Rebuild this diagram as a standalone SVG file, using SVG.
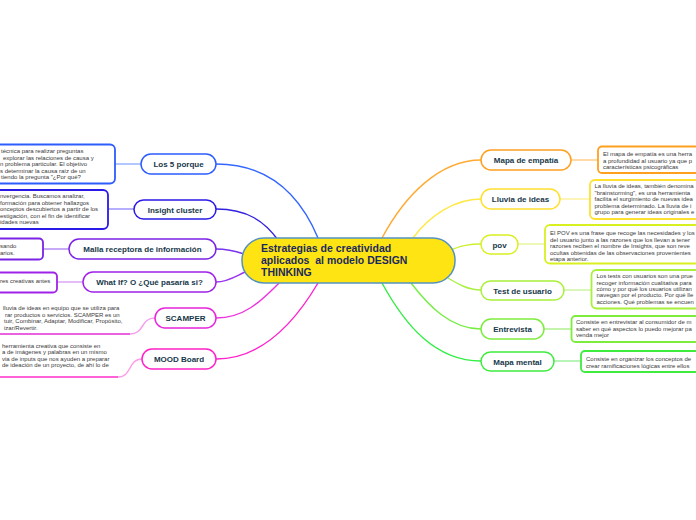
<svg xmlns="http://www.w3.org/2000/svg" width="696" height="520" viewBox="0 0 696 520">
<style>
.bg{fill:#ffffff}
.node rect{fill:#ffffff;stroke-width:1.5}
.desc rect{fill:#ffffff;stroke-width:1.8}
.nt{font-family:"Liberation Sans",Arial,sans-serif;font-size:8px;font-weight:bold;fill:#17384a;text-anchor:middle}
.dt{font-family:"Liberation Sans",Arial,sans-serif;font-size:6px;fill:#3a3a3a}
.ct{font-family:"Liberation Sans",Arial,sans-serif;font-size:10.5px;font-weight:bold;fill:#1b2a5e;white-space:pre}
#connectors path{fill:none;stroke-width:1.4}
#connectors .lt{stroke-width:1.5}
</style>
<rect class="bg" x="0" y="0" width="696" height="520"/>
<g id="connectors">
<path d="M216,164 C270,164 300,195 318,238" stroke="#3366ff"/>
<path d="M216,209 C248,209 265,222 278,240" stroke="#3322dd"/>
<path d="M216,249 C228,249 235,251 244,254" stroke="#7733ee"/>
<path d="M216,282 C228,282 236,276 245,272" stroke="#9933ee"/>
<path d="M216,318 C245,318 262,300 279,283" stroke="#ee33dd"/>
<path d="M216,359 C262,359 295,322 318,283" stroke="#ff22cc"/>
<path d="M481,160 C440,160 405,195 382,238" stroke="#ffaa33"/>
<path d="M481,199 C455,199 430,215 413,238" stroke="#ffe844"/>
<path d="M481,244 C468,244 462,246 453,249" stroke="#ccf033"/>
<path d="M481,290 C468,290 458,284 448,278" stroke="#aaf044"/>
<path d="M481,329 C450,329 428,305 411,283" stroke="#77ee44"/>
<path d="M481,361 C435,361 405,325 382,283" stroke="#33ee44"/>
<path class="lt" d="M115,164 L141,164" stroke="#99b4ff"/>
<path class="lt" d="M108,209 L134,209" stroke="#9e95ff"/>
<path class="lt" d="M43,249 L69,249" stroke="#b68cf5"/>
<path class="lt" d="M57,282 L83,282" stroke="#dba6f7"/>
<path class="lt" d="M155,318 C140,318 145,334 130,334" stroke="#f3a0ee"/>
<path class="lt" d="M142,359 C128,359 132,377 118,377" stroke="#ff9ee6"/>
<path d="M0,334 L130,334" stroke="#e22ed6" stroke-width="2.5"/>
<path d="M0,377 L118,377" stroke="#ff2ec8" stroke-width="2.5"/>
<path class="lt" d="M571,160 L598,160" stroke="#ffcc88"/>
<path class="lt" d="M560,199 L590,199" stroke="#fff0a0"/>
<path class="lt" d="M518,244 L545,244" stroke="#e6f5a0"/>
<path class="lt" d="M564,290 L591,290" stroke="#cdf5a0"/>
<path class="lt" d="M544,329 L571,329" stroke="#b0f090"/>
<path class="lt" d="M554,361 L581,361" stroke="#a0f0a0"/>
</g>
<g id="center">
<rect x="242" y="238" width="213" height="45" rx="22" fill="#ffe414" stroke="#5592c0" stroke-width="1.5"/>
<text class="ct" x="261" y="252">Estrategias de creatividad</text>
<text class="ct" x="261" y="264" xml:space="preserve">aplicados  al modelo DESIGN</text>
<text class="ct" x="261" y="275.5">THINKING</text>
</g>
<g id="n-5porque" class="node"><rect x="141" y="154" width="75" height="20" rx="10" stroke="#2d5cff"/><text class="nt" x="178.5" y="167">Los 5 porque</text></g>
<g id="n-insight" class="node"><rect x="134" y="200" width="82" height="19" rx="9.5" stroke="#2a1ae8"/><text class="nt" x="175" y="212.5">Insight cluster</text></g>
<g id="n-malla" class="node"><rect x="69" y="239" width="147" height="20" rx="10" stroke="#7b22e6"/><text class="nt" x="142.5" y="252">Malla receptora de información</text></g>
<g id="n-whatif" class="node"><rect x="83" y="272" width="133" height="20" rx="10" stroke="#a022e8"/><text class="nt" x="149.5" y="285">What If? O ¿Qué pasaría si?</text></g>
<g id="n-scamper" class="node"><rect x="155" y="308" width="61" height="20" rx="10" stroke="#e625dc"/><text class="nt" x="185.5" y="321">SCAMPER</text></g>
<g id="n-mood" class="node"><rect x="142" y="349" width="74" height="20" rx="10" stroke="#ff22c8"/><text class="nt" x="179" y="362">MOOD Board</text></g>
<g id="n-empatia" class="node"><rect x="481" y="150" width="90" height="20" rx="10" stroke="#ff9f1f"/><text class="nt" x="526" y="163">Mapa de empatía</text></g>
<g id="n-lluvia" class="node"><rect x="481" y="189" width="79" height="20" rx="10" stroke="#ffe030"/><text class="nt" x="520.5" y="202">Lluvia de ideas</text></g>
<g id="n-pov" class="node"><rect x="481" y="235" width="37" height="19" rx="9.5" stroke="#d9f020"/><text class="nt" x="499.5" y="247.5">pov</text></g>
<g id="n-test" class="node"><rect x="481" y="281" width="83" height="19" rx="9.5" stroke="#a8f03a"/><text class="nt" x="522.5" y="293.5">Test de usuario</text></g>
<g id="n-entrevista" class="node"><rect x="481" y="319" width="63" height="20" rx="10" stroke="#7ded3d"/><text class="nt" x="512.5" y="332">Entrevista</text></g>
<g id="n-mapamental" class="node"><rect x="481" y="352" width="73" height="19" rx="9.5" stroke="#3eec3e"/><text class="nt" x="517.5" y="364.5">Mapa mental</text></g>
<g id="d-5porque" class="desc"><rect x="-20" y="144.5" width="135" height="39" rx="5" stroke="#2d5cff"/>
<text class="dt" x="1" y="153">técnica para realizar preguntas</text>
<text class="dt" x="3" y="159.5">explorar las relaciones de causa y</text>
<text class="dt" x="0" y="166">n problema particular. El objetivo</text>
<text class="dt" x="0" y="172.5">s determinar la causa raíz de un</text>
<text class="dt" x="1" y="179">tiendo la pregunta "¿Por qué?</text></g>
<g id="d-insight" class="desc"><rect x="-20" y="190" width="128" height="39" rx="5" stroke="#2a1ae8"/>
<text class="dt" x="0" y="198">nvergencia. Buscamos analizar,</text>
<text class="dt" x="0" y="204.5">formación para obtener hallazgos</text>
<text class="dt" x="0" y="211">onceptos descubiertos a partir de los</text>
<text class="dt" x="0" y="217.5">estigación, con el fin de identificar</text>
<text class="dt" x="0" y="224">idades nuevas</text></g>
<g id="d-malla" class="desc"><rect x="-20" y="238.5" width="63" height="21" rx="4" stroke="#7b22e6"/>
<text class="dt" x="0" y="247.5">sando</text>
<text class="dt" x="0" y="254.5">arios.</text></g>
<g id="d-whatif" class="desc"><rect x="-20" y="272.5" width="77" height="20" rx="4" stroke="#a022e8"/>
<text class="dt" x="0" y="282.5">res creativas antes</text></g>
<g id="d-scamper">
<text class="dt" x="3" y="310">lluvia de ideas en equipo que se utiliza para</text>
<text class="dt" x="5" y="316.5">rar productos o servicios. SCAMPER es un</text>
<text class="dt" x="4" y="323">tuir, Combinar, Adaptar, Modificar, Propósito,</text>
<text class="dt" x="4" y="329.5">izar/Revertir.</text></g>
<g id="d-mood">
<text class="dt" x="2" y="347.5">herramienta creativa que consiste en</text>
<text class="dt" x="2" y="354">a de imágenes y palabras en un mismo</text>
<text class="dt" x="2" y="360.5">via de inputs que nos ayuden a preparar</text>
<text class="dt" x="2" y="367"> de ideación de un proyecto, de ahí lo de</text></g>
<g id="d-empatia" class="desc"><rect x="598" y="146.5" width="120" height="26.5" rx="4" stroke="#ff9f1f"/>
<text class="dt" x="603" y="156">El mapa de empatía es una herra</text>
<text class="dt" x="603" y="162.5">a profundidad al usuario ya que p</text>
<text class="dt" x="603" y="169">características psicográficas</text></g>
<g id="d-lluvia" class="desc"><rect x="590" y="180" width="130" height="39" rx="5" stroke="#ffe030"/>
<text class="dt" x="594.5" y="188">La lluvia de ideas, también denomina</text>
<text class="dt" x="594.5" y="194.5">"brainstorming", es una herramienta</text>
<text class="dt" x="594.5" y="201">facilita el surgimiento de nuevas idea</text>
<text class="dt" x="594.5" y="207.5">problema determinado. La lluvia de i</text>
<text class="dt" x="594.5" y="214">grupo para generar ideas originales e</text></g>
<g id="d-pov" class="desc"><rect x="545" y="225" width="175" height="38.5" rx="5" stroke="#d9f020"/>
<text class="dt" x="550" y="235">El POV es una frase que recoge las necesidades y los</text>
<text class="dt" x="550" y="241.5">del usuario junto a las razones que los llevan a tener</text>
<text class="dt" x="550" y="248">razones reciben el nombre de Insights, que son reve</text>
<text class="dt" x="550" y="254.5">ocultas obtenidas de las observaciones provenientes</text>
<text class="dt" x="550" y="261">etapa anterior.</text></g>
<g id="d-test" class="desc"><rect x="591.5" y="270" width="130" height="38.5" rx="5" stroke="#a8f03a"/>
<text class="dt" x="596.5" y="278">Los tests con usuarios son una prue</text>
<text class="dt" x="596.5" y="284.5">recoger información cualitativa para</text>
<text class="dt" x="596.5" y="290.5">cómo y por qué los usuarios utilizan</text>
<text class="dt" x="596.5" y="297">navegan por el producto. Por qué lle</text>
<text class="dt" x="596.5" y="303.5">acciones. Qué problemas se encuen</text></g>
<g id="d-entrevista" class="desc"><rect x="571.5" y="316" width="150" height="26" rx="4" stroke="#7ded3d"/>
<text class="dt" x="576" y="324">Consiste en entrevistar al consumidor de m</text>
<text class="dt" x="576" y="330.5">saber en qué aspectos lo puedo mejorar pa</text>
<text class="dt" x="576" y="337">venda mejor</text></g>
<g id="d-mapamental" class="desc"><rect x="581" y="351" width="140" height="21" rx="4" stroke="#3eec3e"/>
<text class="dt" x="586" y="361">Consiste en organizar los conceptos de</text>
<text class="dt" x="586" y="367.5">crear ramificaciones lógicas entre ellos</text></g>
</svg>
